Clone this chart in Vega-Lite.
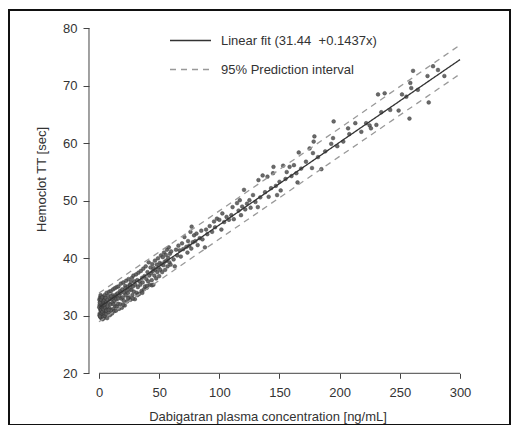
{
  "$schema": "https://vega.github.io/schema/vega-lite/v6.json",
  "autosize": "none",
  "padding": {"left": 9, "top": 10, "right": 1, "bottom": 0},
  "width": 501,
  "height": 415,
  "background": "white",
  "config": {
    "view": {"stroke": "#111", "strokeWidth": 2},
    "font": "Liberation Sans"
  },
  "datasets": {
    "points": [
      {"conc":0.3,"tt":32.8},{"conc":0.5,"tt":31.9},{"conc":0.6,"tt":30.4},{"conc":0.8,"tt":33.1},{"conc":1.0,"tt":31.2},{"conc":1.1,"tt":29.8},{"conc":1.2,"tt":32.4},{"conc":1.4,"tt":30.9},{"conc":1.5,"tt":33.4},{"conc":1.6,"tt":31.6},{"conc":1.8,"tt":30.2},{"conc":2.0,"tt":32.1},{"conc":2.1,"tt":29.5},{"conc":2.2,"tt":31.0},{"conc":2.4,"tt":33.0},{"conc":2.5,"tt":30.6},{"conc":2.7,"tt":32.6},{"conc":2.8,"tt":31.4},{"conc":3.0,"tt":29.4},{"conc":3.1,"tt":30.0},{"conc":3.2,"tt":32.9},{"conc":3.4,"tt":31.8},{"conc":3.6,"tt":30.8},{"conc":3.8,"tt":33.3},{"conc":4.0,"tt":32.2},{"conc":4.1,"tt":29.6},{"conc":4.3,"tt":31.5},{"conc":4.5,"tt":30.5},{"conc":4.7,"tt":33.6},{"conc":4.9,"tt":32.0},{"conc":0.2,"tt":31.5},{"conc":0.4,"tt":30.1},{"conc":0.7,"tt":32.3},{"conc":0.9,"tt":29.9},{"conc":1.3,"tt":33.6},{"conc":1.7,"tt":32.8},{"conc":1.9,"tt":31.0},{"conc":2.3,"tt":30.4},{"conc":2.6,"tt":33.2},{"conc":2.9,"tt":30.7},{"conc":3.3,"tt":31.2},{"conc":3.5,"tt":29.9},{"conc":3.7,"tt":32.5},{"conc":3.9,"tt":31.1},{"conc":4.2,"tt":30.3},{"conc":4.4,"tt":32.7},{"conc":4.6,"tt":31.9},{"conc":4.8,"tt":30.0},
      {"conc":5.2,"tt":31.4},{"conc":5.5,"tt":33.1},{"conc":5.8,"tt":30.3},{"conc":6.0,"tt":32.4},{"conc":6.3,"tt":34.0},{"conc":6.5,"tt":31.0},{"conc":6.8,"tt":29.6},{"conc":7.0,"tt":32.8},{"conc":7.3,"tt":31.6},{"conc":7.6,"tt":33.5},{"conc":7.9,"tt":30.6},{"conc":8.2,"tt":32.2},{"conc":8.5,"tt":34.2},{"conc":8.8,"tt":31.3},{"conc":9.0,"tt":30.1},{"conc":9.3,"tt":33.0},{"conc":9.6,"tt":32.0},{"conc":9.9,"tt":34.3},{"conc":10.2,"tt":31.0},{"conc":10.5,"tt":32.9},{"conc":10.8,"tt":30.4},{"conc":11.1,"tt":33.6},{"conc":11.4,"tt":32.3},{"conc":11.7,"tt":34.6},{"conc":12.0,"tt":31.2},{"conc":12.3,"tt":33.2},{"conc":12.6,"tt":30.8},{"conc":12.9,"tt":32.6},{"conc":13.2,"tt":34.8},{"conc":13.5,"tt":31.7},{"conc":13.8,"tt":33.4},{"conc":14.1,"tt":30.9},{"conc":14.4,"tt":32.9},{"conc":14.7,"tt":35.0},{"conc":15.0,"tt":31.6},{"conc":6.1,"tt":30.9},{"conc":8.0,"tt":31.0},{"conc":10.0,"tt":33.4},{"conc":12.1,"tt":32.0},{"conc":14.2,"tt":33.7},
      {"conc":15.4,"tt":33.9},{"conc":15.8,"tt":32.1},{"conc":16.2,"tt":35.1},{"conc":16.6,"tt":31.2},{"conc":17.0,"tt":33.5},{"conc":17.4,"tt":34.3},{"conc":17.8,"tt":32.0},{"conc":18.2,"tt":35.6},{"conc":18.6,"tt":33.0},{"conc":19.0,"tt":31.4},{"conc":19.4,"tt":34.6},{"conc":19.8,"tt":33.2},{"conc":20.2,"tt":35.8},{"conc":20.6,"tt":32.6},{"conc":21.0,"tt":34.0},{"conc":21.4,"tt":31.8},{"conc":21.8,"tt":35.2},{"conc":22.2,"tt":33.6},{"conc":22.6,"tt":36.1},{"conc":23.0,"tt":34.3},{"conc":23.4,"tt":32.5},{"conc":23.8,"tt":35.0},{"conc":24.2,"tt":34.0},{"conc":24.6,"tt":36.4},{"conc":25.0,"tt":33.2},{"conc":25.4,"tt":35.4},{"conc":25.8,"tt":34.6},{"conc":26.2,"tt":32.8},{"conc":26.6,"tt":35.9},{"conc":27.0,"tt":34.5},{"conc":27.4,"tt":36.6},{"conc":27.8,"tt":33.6},{"conc":28.2,"tt":35.1},{"conc":28.6,"tt":37.0},{"conc":29.0,"tt":34.2},{"conc":29.4,"tt":36.0},{"conc":29.8,"tt":32.9},{"conc":16.0,"tt":33.0},{"conc":18.0,"tt":34.0},{"conc":20.0,"tt":31.9},{"conc":22.0,"tt":34.8},{"conc":24.0,"tt":33.1},{"conc":26.0,"tt":35.3},{"conc":28.0,"tt":33.0},
      {"conc":30.3,"tt":35.4},{"conc":30.8,"tt":37.2},{"conc":31.3,"tt":34.0},{"conc":31.8,"tt":36.2},{"conc":32.3,"tt":35.0},{"conc":32.8,"tt":37.5},{"conc":33.3,"tt":33.8},{"conc":33.8,"tt":36.0},{"conc":34.3,"tt":35.4},{"conc":34.8,"tt":37.8},{"conc":35.3,"tt":34.3},{"conc":35.8,"tt":36.6},{"conc":36.3,"tt":35.8},{"conc":36.8,"tt":38.2},{"conc":37.3,"tt":34.6},{"conc":37.8,"tt":36.9},{"conc":38.3,"tt":35.1},{"conc":38.8,"tt":38.6},{"conc":39.3,"tt":36.4},{"conc":39.8,"tt":34.9},{"conc":40.3,"tt":37.6},{"conc":40.8,"tt":36.0},{"conc":41.3,"tt":39.3},{"conc":41.8,"tt":37.0},{"conc":42.3,"tt":35.4},{"conc":42.8,"tt":38.4},{"conc":43.3,"tt":37.4},{"conc":43.8,"tt":36.2},{"conc":44.3,"tt":39.0},{"conc":44.8,"tt":37.8},{"conc":32.0,"tt":33.6},{"conc":36.0,"tt":34.0},{"conc":40.0,"tt":35.2},{"conc":44.0,"tt":35.3},{"conc":45.2,"tt":35.4},
      {"conc":45.5,"tt":38.3},{"conc":46.0,"tt":37.0},{"conc":46.5,"tt":39.6},{"conc":47.0,"tt":38.0},{"conc":47.5,"tt":36.5},{"conc":48.0,"tt":38.9},{"conc":48.5,"tt":37.6},{"conc":49.0,"tt":40.0},{"conc":49.5,"tt":38.4},{"conc":50.0,"tt":36.9},{"conc":50.5,"tt":39.2},{"conc":51.0,"tt":38.0},{"conc":51.5,"tt":40.5},{"conc":52.0,"tt":39.0},{"conc":52.5,"tt":37.6},{"conc":53.0,"tt":40.2},{"conc":53.5,"tt":38.8},{"conc":54.0,"tt":41.0},{"conc":54.5,"tt":39.4},{"conc":55.0,"tt":38.0},{"conc":55.5,"tt":40.6},{"conc":56.0,"tt":39.6},{"conc":56.5,"tt":41.5},{"conc":57.0,"tt":38.6},{"conc":57.5,"tt":40.1},{"conc":58.0,"tt":41.9},{"conc":58.5,"tt":39.3},{"conc":59.0,"tt":40.8},{"conc":59.5,"tt":38.9},{"conc":60.0,"tt":41.2},
      {"conc":62.0,"tt":39.8},{"conc":63.0,"tt":38.6},{"conc":64.0,"tt":41.5},{"conc":65.0,"tt":40.5},{"conc":66.0,"tt":42.2},{"conc":67.0,"tt":41.4},{"conc":68.0,"tt":40.3},{"conc":69.0,"tt":42.6},{"conc":70.0,"tt":41.6},{"conc":71.0,"tt":43.7},{"conc":72.6,"tt":42.0},{"conc":73.5,"tt":41.0},{"conc":74.0,"tt":43.0},{"conc":75.0,"tt":42.2},{"conc":76.0,"tt":44.6},{"conc":76.7,"tt":41.7},{"conc":77.0,"tt":45.5},{"conc":78.0,"tt":42.8},{"conc":79.0,"tt":44.0},{"conc":80.0,"tt":43.0},{"conc":81.0,"tt":44.3},{"conc":82.0,"tt":42.3},{"conc":83.7,"tt":43.5},{"conc":85.0,"tt":44.8},{"conc":86.0,"tt":43.3},{"conc":88.0,"tt":41.9},{"conc":89.0,"tt":45.0},{"conc":90.0,"tt":44.2},{"conc":92.0,"tt":45.6},{"conc":94.0,"tt":44.6},{"conc":95.6,"tt":46.4},{"conc":96.5,"tt":45.4},{"conc":98.0,"tt":46.9},{"conc":100.0,"tt":46.7},{"conc":101.7,"tt":45.0},{"conc":102.5,"tt":47.8},{"conc":104.0,"tt":46.3},{"conc":106.0,"tt":47.2},{"conc":108.0,"tt":46.7},{"conc":110.0,"tt":47.5},{"conc":111.0,"tt":48.9},{"conc":112.0,"tt":46.8},{"conc":114.7,"tt":49.6},{"conc":116.0,"tt":48.3},{"conc":117.0,"tt":50.1},{"conc":118.0,"tt":47.5},{"conc":119.0,"tt":49.0},{"conc":120.5,"tt":51.9},{"conc":121.5,"tt":48.5},{"conc":123.0,"tt":49.5},{"conc":125.0,"tt":50.1},{"conc":126.0,"tt":48.8},{"conc":128.0,"tt":51.0},{"conc":130.0,"tt":49.8},{"conc":132.0,"tt":48.9},{"conc":132.5,"tt":53.6},{"conc":134.0,"tt":50.6},{"conc":136.0,"tt":54.4},{"conc":138.0,"tt":51.5},{"conc":140.0,"tt":54.2},{"conc":141.0,"tt":50.7},{"conc":143.0,"tt":52.2},{"conc":144.6,"tt":54.8},{"conc":145.0,"tt":55.9},{"conc":147.0,"tt":52.6},{"conc":148.0,"tt":51.0},{"conc":150.0,"tt":53.3},{"conc":151.0,"tt":51.8},{"conc":153.0,"tt":56.1},{"conc":155.0,"tt":53.8},{"conc":156.0,"tt":55.0},{"conc":158.4,"tt":55.9},{"conc":160.0,"tt":54.3},{"conc":162.0,"tt":56.2},{"conc":164.0,"tt":54.8},{"conc":165.0,"tt":53.2},{"conc":166.0,"tt":58.4},{"conc":168.0,"tt":55.6},{"conc":172.0,"tt":56.8},{"conc":175.0,"tt":59.1},{"conc":177.0,"tt":55.7},{"conc":177.8,"tt":58.3},{"conc":178.4,"tt":60.3},{"conc":179.0,"tt":61.2},{"conc":182.0,"tt":57.6},{"conc":184.8,"tt":55.5},{"conc":188.0,"tt":58.6},{"conc":193.0,"tt":59.9},{"conc":194.5,"tt":60.9},{"conc":195.0,"tt":63.8},{"conc":198.0,"tt":59.5},{"conc":203.0,"tt":60.3},{"conc":207.0,"tt":62.6},{"conc":208.0,"tt":61.6},{"conc":213.0,"tt":63.5},{"conc":218.0,"tt":62.0},{"conc":222.0,"tt":63.5},{"conc":224.9,"tt":63.1},{"conc":226.0,"tt":62.6},{"conc":230.5,"tt":63.2},{"conc":231.9,"tt":68.5},{"conc":234.6,"tt":65.4},{"conc":237.4,"tt":68.7},{"conc":242.0,"tt":65.8},{"conc":249.0,"tt":65.7},{"conc":251.8,"tt":68.5},{"conc":255.4,"tt":68.1},{"conc":258.0,"tt":64.3},{"conc":258.7,"tt":70.5},{"conc":259.5,"tt":69.6},{"conc":261.0,"tt":72.6},{"conc":265.0,"tt":69.3},{"conc":273.0,"tt":71.7},{"conc":274.0,"tt":67.1},{"conc":277.6,"tt":73.4},{"conc":281.7,"tt":72.75},{"conc":287.0,"tt":71.7}
    ],
    "lines": [
      {"conc":0,"tt":31.44,"series":"fit","kind":"Linear fit (31.44 \u00a0+0.1437x)"},
      {"conc":300,"tt":74.55,"series":"fit","kind":"Linear fit (31.44 \u00a0+0.1437x)"},
      {"conc":0,"tt":33.95,"series":"upper","kind":"95% Prediction interval"},
      {"conc":100,"tt":48.25,"series":"upper","kind":"95% Prediction interval"},
      {"conc":200,"tt":62.63,"series":"upper","kind":"95% Prediction interval"},
      {"conc":300,"tt":77.1,"series":"upper","kind":"95% Prediction interval"},
      {"conc":0,"tt":28.95,"series":"lower","kind":"95% Prediction interval"},
      {"conc":100,"tt":43.35,"series":"lower","kind":"95% Prediction interval"},
      {"conc":200,"tt":57.73,"series":"lower","kind":"95% Prediction interval"},
      {"conc":300,"tt":72.05,"series":"lower","kind":"95% Prediction interval"}
    ]
  },
  "layer": [
    {
      "data": {"name": "points"},
      "mark": {"type": "point", "filled": true, "size": 14, "fill": "#5a5a5a", "stroke": "#333", "strokeWidth": 0.5, "opacity": 0.9},
      "encoding": {
        "x": {
          "field": "conc", "type": "quantitative",
          "scale": {"domain": [-74.79, 341.55], "nice": false, "zero": false},
          "axis": {
            "title": "Dabigatran plasma concentration [ng/mL]",
            "values": [0, 50, 100, 150, 200, 250, 300],
            "offset": -51.7, "domain": false, "grid": false,
            "tickSize": 5, "tickColor": "#444", "tickWidth": 1,
            "labelFontSize": 13, "labelColor": "#333", "labelPadding": 8, "labelFont": "Liberation Sans",
            "titleFontSize": 13, "titleFontWeight": "normal", "titleColor": "#333", "titleFont": "Liberation Sans",
            "titleX": 258.5, "titleY": 43.4, "titleBaseline": "middle", "titleAlign": "center"
          }
        },
        "y": {
          "field": "tt", "type": "quantitative",
          "scale": {"domain": [11.01, 83.18], "nice": false, "zero": false},
          "axis": {
            "title": "Hemoclot TT [sec]",
            "values": [20, 30, 40, 50, 60, 70, 80],
            "offset": -80, "domain": false, "grid": false,
            "tickSize": 6, "tickColor": "#444", "tickWidth": 1,
            "labelFontSize": 13, "labelColor": "#333", "labelPadding": 6, "labelFont": "Liberation Sans",
            "titleFontSize": 13, "titleFontWeight": "normal", "titleColor": "#333", "titleFont": "Liberation Sans",
            "titleX": -47.3, "titleY": 169, "titleBaseline": "middle", "titleAlign": "center"
          }
        }
      }
    },
    {
      "data": {"name": "lines"},
      "mark": {"type": "line", "strokeWidth": 1.3},
      "encoding": {
        "x": {"field": "conc", "type": "quantitative"},
        "y": {"field": "tt", "type": "quantitative"},
        "detail": {"field": "series"},
        "color": {
          "field": "kind", "type": "nominal",
          "scale": {"domain": ["Linear fit (31.44 \u00a0+0.1437x)", "95% Prediction interval"], "range": ["#333333", "#999999"]},
          "legend": {"title": null, "orient": "none", "legendX": 160, "legendY": 9, "symbolType": "stroke", "symbolSize": 1681, "symbolStrokeWidth": 1.3, "labelFontSize": 13, "labelColor": "#333", "labelFont": "Liberation Sans", "labelOffset": 9, "labelLimit": 300, "rowPadding": -19, "padding": 0}
        },
        "strokeDash": {
          "field": "kind", "type": "nominal",
          "scale": {"domain": ["Linear fit (31.44 \u00a0+0.1437x)", "95% Prediction interval"], "range": [[1, 0], [6, 5]]},
          "legend": {"title": null, "orient": "none", "legendX": 160, "legendY": 9, "symbolType": "stroke", "symbolSize": 1681, "symbolStrokeWidth": 1.3, "labelFontSize": 13, "labelColor": "#333", "labelFont": "Liberation Sans", "labelOffset": 9, "labelLimit": 300, "rowPadding": -19, "padding": 0}
        }
      }
    },
    {
      "data": {"values": [{}]},
      "mark": {"type": "rule", "color": "#444", "strokeWidth": 1},
      "encoding": {
        "x": {"datum": 0, "type": "quantitative"},
        "x2": {"datum": 300},
        "y": {"datum": 20, "type": "quantitative"}
      }
    },
    {
      "data": {"values": [{}]},
      "mark": {"type": "rule", "color": "#444", "strokeWidth": 1},
      "encoding": {
        "x": {"datum": -8.31, "type": "quantitative"},
        "y": {"datum": 20, "type": "quantitative"},
        "y2": {"datum": 80}
      }
    }
  ]
}
